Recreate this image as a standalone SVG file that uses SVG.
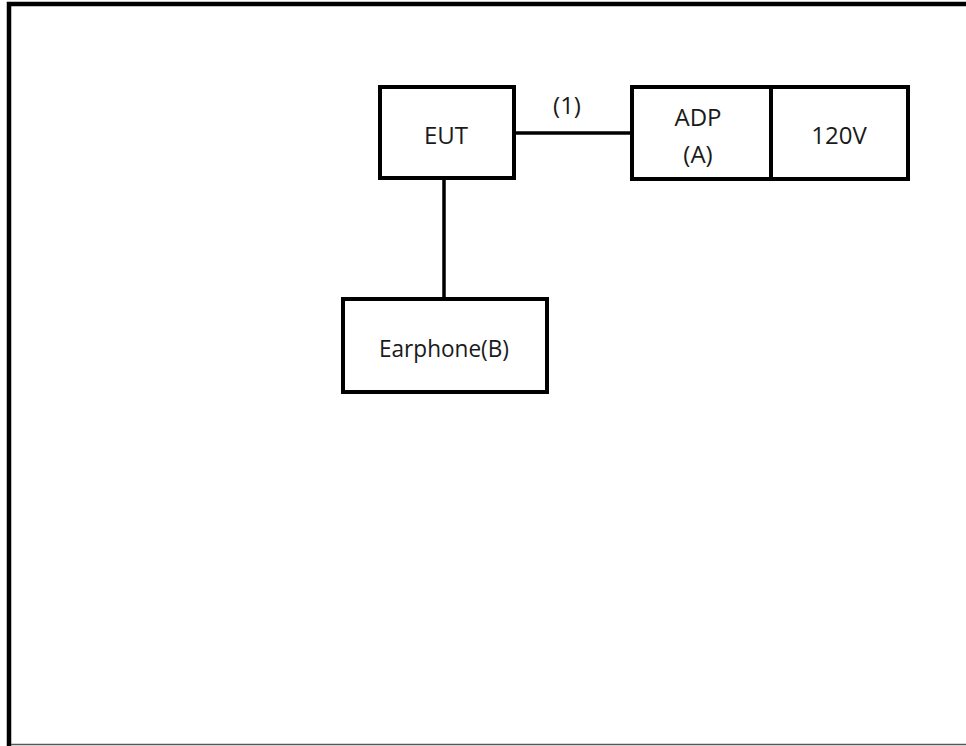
<svg xmlns="http://www.w3.org/2000/svg" width="966" height="746" viewBox="0 0 966 746">
<style>
.box{fill:#fff;stroke:#000;stroke-width:4}
.wire{stroke:#000;stroke-width:3.5;fill:none}
.t{font-family:"Open Sans","Liberation Sans",sans-serif;font-size:24px;fill:#1a1a1a;text-anchor:middle}
</style>
<rect width="966" height="746" fill="#fff"/>
<g id="frame">
<path d="M9,746 V4 H966" fill="none" stroke="#000" stroke-width="4.5"/>
<line x1="11" y1="744.5" x2="966" y2="744.5" stroke="#555" stroke-width="1.5"/>
</g>
<g id="connectors">
<line class="wire" x1="516" y1="133" x2="631" y2="133"/>
<line class="wire" x1="444" y1="179" x2="444" y2="298"/>
<text class="t" x="567" y="114">(1)</text>
</g>
<g id="eut">
<rect class="box" x="380" y="87" width="134" height="91"/>
<text class="t" x="446" y="144">EUT</text>
</g>
<g id="adp">
<rect class="box" x="632" y="87" width="139" height="92"/>
<text class="t" x="698" y="126">ADP</text>
<text class="t" x="698" y="163">(A)</text>
</g>
<g id="v120">
<rect class="box" x="771" y="87" width="137" height="92"/>
<text class="t" x="839" y="144">120V</text>
</g>
<g id="earphone">
<rect class="box" x="343" y="299" width="204" height="93"/>
<text class="t" x="444" y="357" textLength="130" lengthAdjust="spacingAndGlyphs">Earphone(B)</text>
</g>
</svg>
